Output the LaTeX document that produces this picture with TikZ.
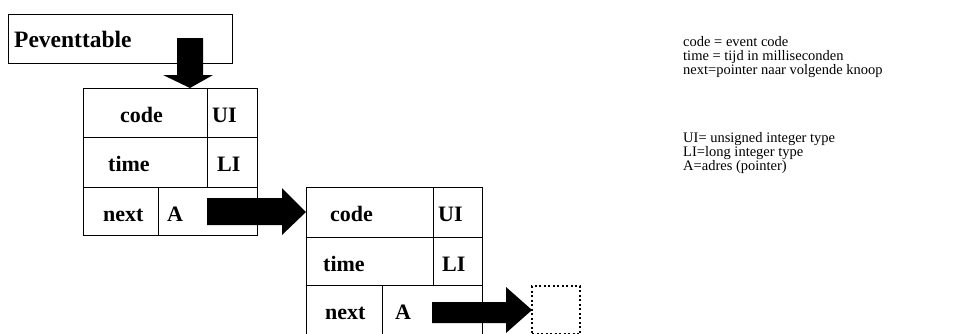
\documentclass[tikz,border=0pt]{standalone}
\usepackage{fontspec}
\setmainfont{Liberation Serif}
\usetikzlibrary{calc}
\begin{document}
\begin{tikzpicture}[x=1pt,y=-1pt,
  cell/.style={draw,line width=0.8pt,anchor=north west,inner sep=0pt,outer sep=0pt},
  nilbox/.style={draw,dash pattern=on 2pt off 2.5pt,line width=1.1pt,anchor=north west,inner sep=0pt,outer sep=0pt},
  lbl/.style={anchor=base west,inner sep=0pt,font=\fontsize{22}{26}\selectfont\bfseries},
  legend/.style={anchor=base west,inner sep=0pt,align=left,font=\fontsize{14.5}{13.8}\selectfont},
  fat/.style={fill=black}]
\useasboundingbox (0,0) rectangle (973,333);
\clip (0,0) rectangle (973,333);
% Peventtable
\node[cell,minimum width=224pt,minimum height=49pt] (pev) at (8,14) {};
\node[lbl,font=\fontsize{23.5}{26}\selectfont\bfseries] (pevt) at (14,47) {Peventtable};
% table 1
\node[cell,minimum width=124pt,minimum height=49pt] (t1code) at (83,88) {};
\node[cell,minimum width=50pt,minimum height=49pt] (t1ui) at (207,88) {};
\node[cell,minimum width=124pt,minimum height=50pt] (t1time) at (83,137) {};
\node[cell,minimum width=50pt,minimum height=50pt] (t1li) at (207,137) {};
\node[cell,minimum width=75pt,minimum height=48pt] (t1next) at (83,187) {};
\node[cell,minimum width=99pt,minimum height=48pt] (t1a) at (158,187) {};
\node[lbl] (l1code) at (120,122) {code};
\node[lbl] (l1ui) at (212,122) {UI};
\node[lbl] (l1time) at (108,171) {time};
\node[lbl] (l1li) at (217,171) {LI};
\node[lbl] (l1next) at (103,221) {next};
\node[lbl] (l1a) at (167,221) {A};
% table 2
\node[cell,minimum width=127pt,minimum height=50pt] (t2code) at (306,187) {};
\node[cell,minimum width=49pt,minimum height=50pt] (t2ui) at (433,187) {};
\node[cell,minimum width=127pt,minimum height=48pt] (t2time) at (306,237) {};
\node[cell,minimum width=49pt,minimum height=48pt] (t2li) at (433,237) {};
\node[cell,minimum width=76pt,minimum height=55pt] (t2next) at (306,285) {};
\node[cell,minimum width=100pt,minimum height=55pt] (t2a) at (382,285) {};
\node[lbl] (l2code) at (330,221) {code};
\node[lbl] (l2ui) at (438,221) {UI};
\node[lbl] (l2time) at (323,271) {time};
\node[lbl] (l2li) at (442,271) {LI};
\node[lbl] (l2next) at (325,319) {next};
\node[lbl] (l2a) at (395,319) {A};
% empty next node
\node[nilbox,minimum width=48pt,minimum height=48pt] (nil) at (532,286) {};
% fat arrows
\fill[fat] (177,38) -- (203,38) -- (203,75) -- (213,75) -- ($(t1code.north west)+(107,0)$) -- (163,75) -- (177,75) -- cycle;
\fill[fat] (207,198) -- (282,198) -- (282,188) -- (t2code.west) -- (282,235) -- (282,225) -- (207,225) -- cycle;
\fill[fat] (432,302) -- (506,302) -- (506,287) -- (nil.west) -- (506,333) -- (506,323) -- (432,323) -- cycle;
% legend
\node[legend] (leg1) at (683,74) {code = event code\\time = tijd in milliseconden\\next=pointer naar volgende knoop};
\node[legend] (leg2) at (683,170) {UI= unsigned integer type\\LI=long integer type\\A=adres (pointer)};
\end{tikzpicture}
\end{document}
